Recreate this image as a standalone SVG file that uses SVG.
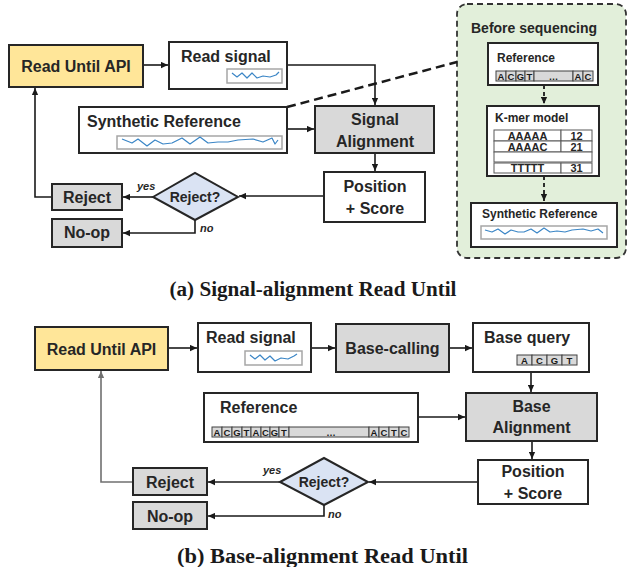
<svg xmlns="http://www.w3.org/2000/svg" width="627" height="567" viewBox="0 0 627 567">
<defs>
<style>
.t{font-family:"Liberation Sans",Arial,sans-serif;font-weight:bold;fill:#262626}
.m{text-anchor:middle}
.f16{font-size:16px}
.f14{font-size:14px}
.f12{font-size:12px}
.f11{font-size:11px}
.f9{font-size:9.5px;fill:#1a1a1a}
.it{font-style:italic;font-size:11px}
.box{fill:#ffffff;stroke:#262626;stroke-width:2}
.gray{fill:#d9d9d9;stroke:#262626;stroke-width:2}
.api{fill:#ffe699;stroke:#262626;stroke-width:2}
.dia{fill:#dae3f3;stroke:#262626;stroke-width:2}
.conn{fill:none;stroke:#1a1a1a;stroke-width:1.6}
.back{fill:none;stroke:#707070;stroke-width:1.6}
.dash{fill:none;stroke:#1a1a1a;stroke-width:1.8;stroke-dasharray:4 3}
.wbox{fill:#ffffff;stroke:#a6a6a6;stroke-width:1.5}
.wave{fill:none;stroke:#3b86c6;stroke-width:1.2;stroke-linejoin:round}
.cell{fill:#d9d9d9;stroke:#404040;stroke-width:1}
.tcell{fill:#ffffff;stroke:#595959;stroke-width:1}
.cap{font-family:"Liberation Serif","Times New Roman",serif;font-weight:bold;font-size:20px;fill:#1a1a1a;text-anchor:middle}
</style>
<marker id="ah" viewBox="0 0 10 10" refX="10" refY="5" markerUnits="userSpaceOnUse" markerWidth="7" markerHeight="7" orient="auto">
<path d="M0,0.5 L10,5 L0,9.5 z" fill="#1a1a1a"/>
</marker>
<marker id="ahg" viewBox="0 0 10 10" refX="10" refY="5" markerUnits="userSpaceOnUse" markerWidth="7" markerHeight="7" orient="auto">
<path d="M0,0.5 L10,5 L0,9.5 z" fill="#707070"/>
</marker>
</defs>
<rect width="627" height="567" fill="#ffffff"/>

<!-- ===== (a) ===== -->
<g id="a-before-seq">
<rect x="457" y="4" width="169" height="254" rx="10" fill="#e2efda" stroke="#333333" stroke-width="1.8" stroke-dasharray="6 4"/>
<text class="t f14" x="471" y="33">Before sequencing</text>
</g>

<g id="a-connectors">
<line x1="287" y1="107" x2="457" y2="62" stroke="#1a1a1a" stroke-width="2.5" stroke-dasharray="9 5"/>
<path class="conn" d="M143,65 H168" marker-end="url(#ah)"/>
<path class="conn" d="M287,65 H375 V105" marker-end="url(#ah)"/>
<path class="conn" d="M287,129 H314" marker-end="url(#ah)"/>
<path class="conn" d="M375,153 V171" marker-end="url(#ah)"/>
<path class="conn" d="M324,196 H239" marker-end="url(#ah)"/>
<path class="conn" d="M153,197 H123" marker-end="url(#ah)"/>
<path class="conn" d="M195,220 V233 H123" marker-end="url(#ah)"/>
<path class="conn" d="M52,197 H35 V88" marker-end="url(#ah)"/>
<path class="dash" d="M544,85 V104" marker-end="url(#ah)"/>
<path class="dash" d="M544,176 V201" marker-end="url(#ah)"/>
<text class="t it" x="137" y="190">yes</text>
<text class="t it" x="200" y="232">no</text>
</g>

<g id="a-api">
<rect class="api" x="9" y="45" width="134" height="42"/>
<text class="t f16 m" x="76" y="72">Read Until API</text>
</g>

<g id="a-read-signal">
<rect class="box" x="169" y="42" width="118" height="47"/>
<text class="t f16" x="181" y="62">Read signal</text>
<rect class="wbox" x="227" y="69" width="55" height="14"/>
<polyline class="wave" points="232,73 237,77 242,73 247,78 252,73 257,78 263,76 270,77 276,75 279,72"/>
</g>

<g id="a-synthetic-ref">
<rect class="box" x="79" y="107" width="208" height="46"/>
<text class="t f16" x="87" y="127">Synthetic Reference</text>
<rect class="wbox" x="117" y="136" width="165" height="13"/>
<polyline class="wave" points="122,139 132,143 138,139 147,146 155,140 163,144 172,143 182,138 190,144 200,137 208,143 218,142 228,142 238,140 253,139 263,142 272,138 275,144 278,140"/>
</g>

<g id="a-signal-alignment">
<rect class="gray" x="315" y="106" width="119" height="47"/>
<text class="t f16 m" x="375" y="125">Signal</text>
<text class="t f16 m" x="375" y="147">Alignment</text>
</g>

<g id="a-position">
<rect class="box" x="324" y="172" width="101" height="50"/>
<text class="t f16 m" x="375" y="192">Position</text>
<text class="t f16 m" x="375" y="214">+ Score</text>
</g>

<g id="a-decision">
<polygon class="dia" points="153,197 195,173 238,197 195,220"/>
<text class="t f14 m" x="195" y="202">Reject?</text>
</g>

<g id="a-reject">
<rect class="gray" x="52" y="184" width="70" height="26"/>
<text class="t f16 m" x="87" y="203">Reject</text>
</g>

<g id="a-noop">
<rect class="gray" x="52" y="219" width="70" height="28"/>
<text class="t f16 m" x="87" y="238">No-op</text>
</g>

<g id="a-reference">
<rect class="box" x="488" y="43" width="110" height="42"/>
<text class="t f12" x="497" y="62">Reference</text>
<rect class="cell" x="496" y="71" width="10" height="10"/>
<rect class="cell" x="506" y="71" width="10" height="10"/>
<rect class="cell" x="516" y="71" width="9" height="10"/>
<rect class="cell" x="525" y="71" width="9" height="10"/>
<rect class="cell" x="534" y="71" width="39" height="10"/>
<rect class="cell" x="573" y="71" width="10" height="10"/>
<rect class="cell" x="583" y="71" width="10" height="10"/>
<text class="t f9 m" x="501" y="79.5">A</text>
<text class="t f9 m" x="511" y="79.5">C</text>
<text class="t f9 m" x="520.5" y="79.5">G</text>
<text class="t f9 m" x="529.5" y="79.5">T</text>
<text class="t f9 m" x="553.5" y="79.5">…</text>
<text class="t f9 m" x="578" y="79.5">A</text>
<text class="t f9 m" x="588" y="79.5">C</text>
</g>

<g id="a-kmer">
<rect class="box" x="487" y="106" width="112" height="70"/>
<text class="t f12" x="495" y="122">K-mer model</text>
<rect class="tcell" x="494" y="130" width="67" height="11"/>
<rect class="tcell" x="561" y="130" width="31" height="11"/>
<rect class="tcell" x="494" y="141" width="67" height="11"/>
<rect class="tcell" x="561" y="141" width="31" height="11"/>
<rect class="tcell" x="494" y="152" width="98" height="10"/>
<rect class="tcell" x="494" y="163" width="67" height="10"/>
<rect class="tcell" x="561" y="163" width="31" height="10"/>
<text class="t f11 m" x="527.5" y="140">AAAAA</text>
<text class="t f11 m" x="576.5" y="140">12</text>
<text class="t f11 m" x="527.5" y="151">AAAAC</text>
<text class="t f11 m" x="576.5" y="151">21</text>
<text class="t f11 m" x="527.5" y="172">TTTTT</text>
<text class="t f11 m" x="576.5" y="172">31</text>
</g>

<g id="a-synthetic-ref-small">
<rect class="box" x="471" y="203" width="146" height="44"/>
<text class="t f12" x="482" y="218">Synthetic Reference</text>
<rect class="wbox" x="481" y="226" width="126" height="13"/>
<polyline class="wave" points="485,230 492,232 498,229 505,234 511,230 518,232 524,232 531,229 537,233 544,228 550,232 557,231 565,232 572,230 583,229 591,231 598,229 603,233"/>
</g>

<text class="cap" x="313" y="296" textLength="287" lengthAdjust="spacingAndGlyphs">(a) Signal-alignment Read Until</text>

<!-- ===== (b) ===== -->
<g id="b-connectors">
<path class="conn" d="M168,348 H197" marker-end="url(#ah)"/>
<path class="conn" d="M311,348 H335" marker-end="url(#ah)"/>
<path class="conn" d="M449,348 H472" marker-end="url(#ah)"/>
<path class="conn" d="M531,372 V392" marker-end="url(#ah)"/>
<path class="conn" d="M418,417 H465" marker-end="url(#ah)"/>
<path class="conn" d="M532,441 V459" marker-end="url(#ah)"/>
<path class="conn" d="M478,482 H369" marker-end="url(#ah)"/>
<path class="conn" d="M280,482 H208" marker-end="url(#ah)"/>
<path class="conn" d="M324,505 V516 H208" marker-end="url(#ah)"/>
<path class="back" d="M133,482 H101 V371" marker-end="url(#ahg)"/>
<text class="t it" x="263" y="474">yes</text>
<text class="t it" x="328" y="518">no</text>
</g>

<g id="b-api">
<rect class="api" x="35" y="327" width="133" height="43"/>
<text class="t f16 m" x="101.5" y="355">Read Until API</text>
</g>

<g id="b-read-signal">
<rect class="box" x="198" y="323" width="113" height="49"/>
<text class="t f16" x="206" y="343">Read signal</text>
<rect class="wbox" x="245" y="351" width="57" height="14"/>
<polyline class="wave" points="250,355 255,359 260,355 265,360 270,356 275,361 281,358 288,359 294,356 297,354"/>
</g>

<g id="b-basecalling">
<rect class="gray" x="336" y="324" width="113" height="48"/>
<text class="t f16 m" x="392.5" y="354">Base-calling</text>
</g>

<g id="b-base-query">
<rect class="box" x="473" y="323" width="116" height="49"/>
<text class="t f16" x="484" y="343">Base query</text>
<rect class="cell" x="517" y="355" width="15" height="10"/>
<rect class="cell" x="532" y="355" width="15" height="10"/>
<rect class="cell" x="547" y="355" width="15" height="10"/>
<rect class="cell" x="562" y="355" width="15" height="10"/>
<text class="t f9 m" x="524.5" y="363.5">A</text>
<text class="t f9 m" x="539.5" y="363.5">C</text>
<text class="t f9 m" x="554.5" y="363.5">G</text>
<text class="t f9 m" x="569.5" y="363.5">T</text>
</g>

<g id="b-reference">
<rect class="box" x="204" y="393" width="214" height="49"/>
<text class="t f16" x="220" y="413">Reference</text>
<rect class="cell" x="212" y="427" width="10" height="10"/>
<rect class="cell" x="222" y="427" width="10" height="10"/>
<rect class="cell" x="232" y="427" width="10" height="10"/>
<rect class="cell" x="242" y="427" width="9" height="10"/>
<rect class="cell" x="251" y="427" width="10" height="10"/>
<rect class="cell" x="261" y="427" width="9" height="10"/>
<rect class="cell" x="270" y="427" width="9" height="10"/>
<rect class="cell" x="279" y="427" width="10" height="10"/>
<rect class="cell" x="289" y="427" width="80" height="10"/>
<rect class="cell" x="369" y="427" width="10" height="10"/>
<rect class="cell" x="379" y="427" width="10" height="10"/>
<rect class="cell" x="389" y="427" width="10" height="10"/>
<rect class="cell" x="399" y="427" width="10" height="10"/>
<text class="t f9 m" x="217" y="435.5">A</text>
<text class="t f9 m" x="227" y="435.5">C</text>
<text class="t f9 m" x="237" y="435.5">G</text>
<text class="t f9 m" x="246.5" y="435.5">T</text>
<text class="t f9 m" x="256" y="435.5">A</text>
<text class="t f9 m" x="265.5" y="435.5">C</text>
<text class="t f9 m" x="274.5" y="435.5">G</text>
<text class="t f9 m" x="284" y="435.5">T</text>
<text class="t f9 m" x="331" y="435.5">…</text>
<text class="t f9 m" x="374" y="435.5">A</text>
<text class="t f9 m" x="384" y="435.5">C</text>
<text class="t f9 m" x="394" y="435.5">T</text>
<text class="t f9 m" x="404" y="435.5">C</text>
</g>

<g id="b-base-alignment">
<rect class="gray" x="466" y="393" width="131" height="48"/>
<text class="t f16 m" x="531.5" y="412">Base</text>
<text class="t f16 m" x="531.5" y="433">Alignment</text>
</g>

<g id="b-position">
<rect class="box" x="478" y="460" width="110" height="44"/>
<text class="t f16 m" x="533" y="477">Position</text>
<text class="t f16 m" x="533" y="499">+ Score</text>
</g>

<g id="b-decision">
<polygon class="dia" points="280,482 324,458 368,482 324,505"/>
<text class="t f14 m" x="324" y="487">Reject?</text>
</g>

<g id="b-reject">
<rect class="gray" x="133" y="468" width="74" height="27"/>
<text class="t f16 m" x="170" y="488">Reject</text>
</g>

<g id="b-noop">
<rect class="gray" x="133" y="502" width="74" height="27"/>
<text class="t f16 m" x="170" y="522">No-op</text>
</g>

<text class="cap" x="322.5" y="563" textLength="291" lengthAdjust="spacingAndGlyphs">(b) Base-alignment Read Until</text>
</svg>
